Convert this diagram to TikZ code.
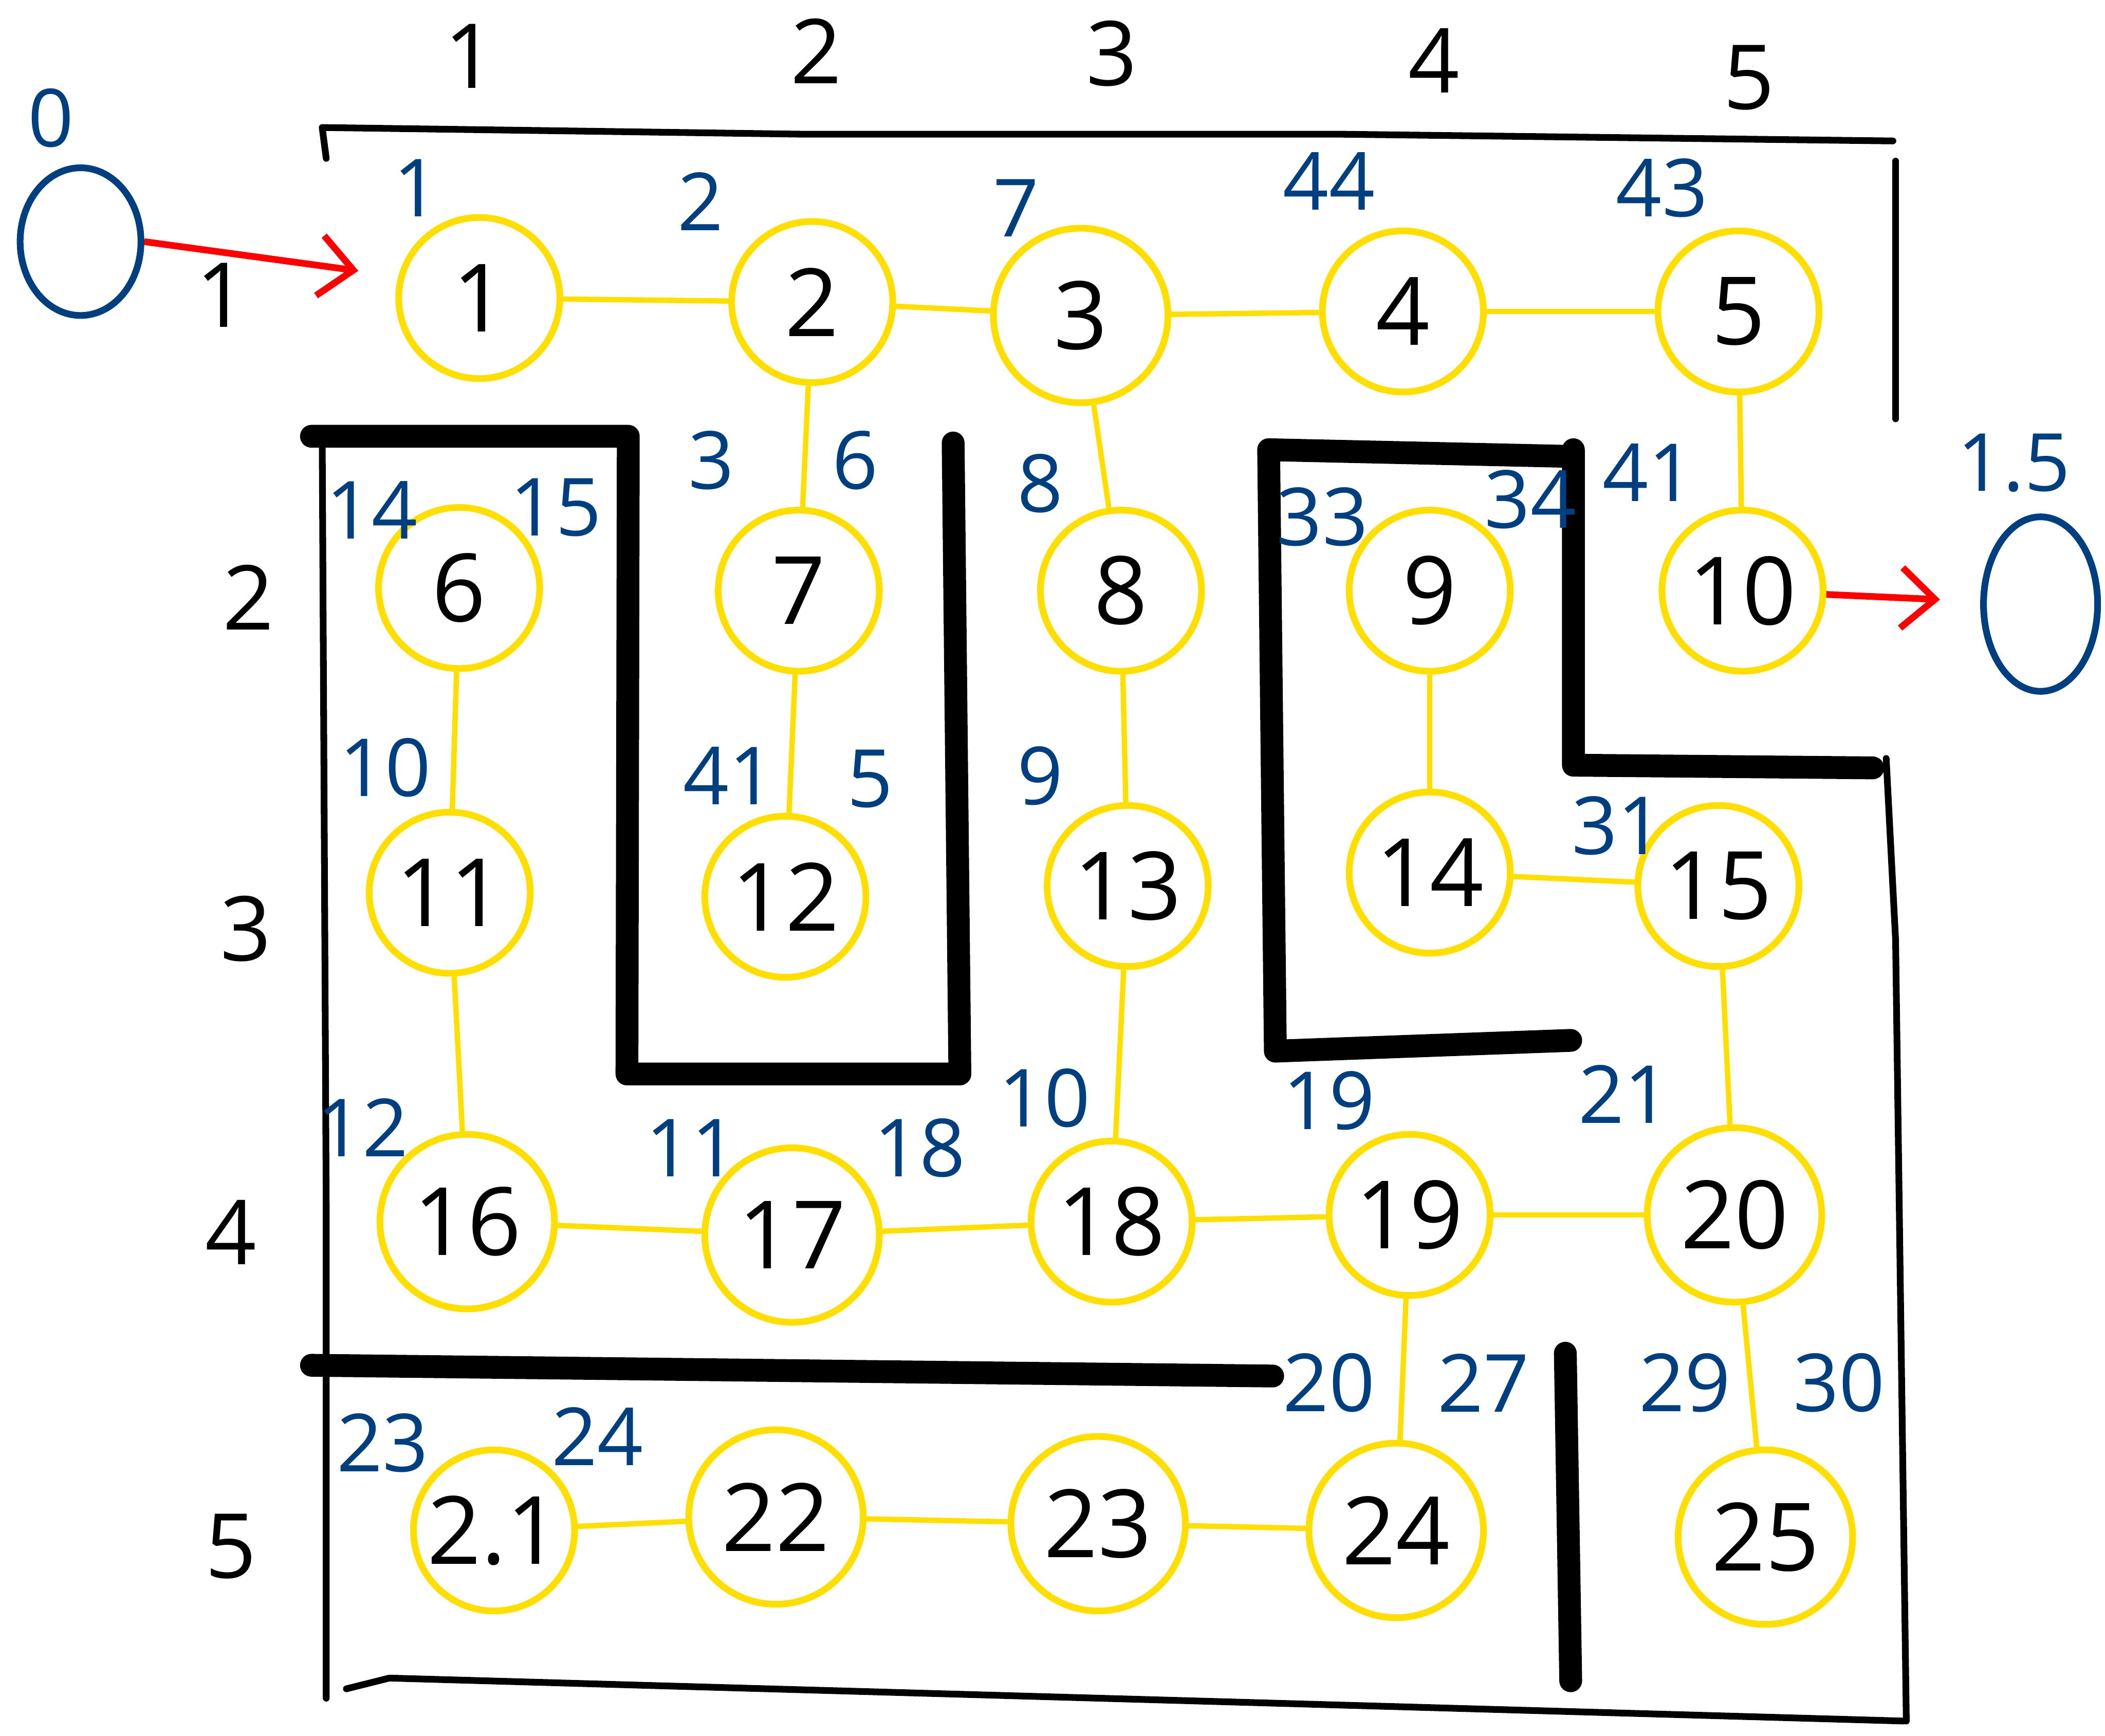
\documentclass[tikz,border=0pt]{standalone}
\usepackage{fontspec}
\setmainfont{Open Sans}
\usetikzlibrary{arrows.meta,shapes.geometric}
\definecolor{mzyel}{HTML}{FFDE00}
\definecolor{mzblu}{HTML}{003F7F}
\definecolor{mzred}{HTML}{FF0000}
\tikzset{
  cell/.style   ={circle, draw=mzyel, line width=0.5mm, minimum size=12mm, inner sep=0pt,
                  font=\fontsize{20}{20}\selectfont},
  pass/.style   ={draw=mzyel, line width=0.4mm},
  tag/.style    ={text=mzblu, inner sep=0pt, font=\fontsize{17}{17}\selectfont},
  idx/.style    ={inner sep=0pt, font=\fontsize{19}{19}\selectfont},
  wall/.style   ={draw=black, line width=0.5mm, line cap=round, line join=round},
  bigwall/.style={draw=black, line width=1.7mm, line cap=round, line join=round},
  term/.style   ={ellipse, draw=mzblu, line width=0.5mm, minimum width=9mm, minimum height=11mm},
  go/.style     ={draw=mzred, line width=0.5mm, -{Straight Barb[length=2.5mm,width=4.5mm]}},
}

\begin{document}
\begin{tikzpicture}[x=0.1mm, y=-0.1mm]
  \useasboundingbox (0,0) rectangle (1568,1293);
  % column and row numbers
  \node[idx] (c1) at (350,42) {1};
  \node[idx] (c2) at (608,38) {2};
  \node[idx] (c3) at (828,40) {3};
  \node[idx] (c4) at (1068,45) {4};
  \node[idx] (c5) at (1303,58) {5};
  \node[idx] (r1) at (165,220) {1};
  \node[idx] (r2) at (185,445) {2};
  \node[idx] (r3) at (183,692) {3};
  \node[idx] (r4) at (172,918) {4};
  \node[idx] (r5) at (172,1152) {5};

  % walls
  \draw[wall] (243,118) -- (240,95) -- (600,100) -- (1000,100) -- (1410,105);
  \draw[wall] (1412,120) -- (1412,312);
  \draw[wall] (240,325) -- (243,900) -- (243,1265);
  \draw[wall] (258,1258) -- (290,1250) -- (1418,1282);
  \draw[wall] (1405,565) -- (1412,700) -- (1420,1282);
  \draw[bigwall] (232,325) -- (468,325) -- (467,800) -- (715,800) -- (710,330);
  \draw[bigwall] (1170,340) -- (945,335) -- (950,783) -- (1170,775);
  \draw[bigwall] (1172,335) -- (1172,570) -- (1395,572);
  \draw[bigwall] (232,1017) -- (948,1025);
  \draw[bigwall] (1166,1008) -- (1170,1252);

  % cells
  \node[cell] (n1) at (357,222) {1};
  \node[cell] (n2) at (605,225) {2};
  \node[cell, minimum size=13mm] (n3) at (805,235) {3};
  \node[cell] (n4) at (1045,232) {4};
  \node[cell] (n5) at (1295,232) {5};
  \node[cell] (n6) at (342,438) {6};
  \node[cell] (n7) at (595,440) {7};
  \node[cell] (n8) at (835,440) {8};
  \node[cell] (n9) at (1065,440) {9};
  \node[cell] (n10) at (1298,440) {10};
  \node[cell] (n11) at (335,665) {11};
  \node[cell] (n12) at (585,668) {12};
  \node[cell] (n13) at (840,660) {13};
  \node[cell] (n14) at (1065,650) {14};
  \node[cell] (n15) at (1280,660) {15};
  \node[cell, minimum size=13mm] (n16) at (348,910) {16};
  \node[cell, minimum size=13mm] (n17) at (590,920) {17};
  \node[cell] (n18) at (828,910) {18};
  \node[cell] (n19) at (1050,905) {19};
  \node[cell, minimum size=13mm] (n20) at (1292,905) {20};
  \node[cell] (n21) at (368,1140) {2.1};
  \node[cell, minimum size=13mm] (n22) at (578,1130) {22};
  \node[cell, minimum size=13mm] (n23) at (818,1135) {23};
  \node[cell, minimum size=13mm] (n24) at (1040,1140) {24};
  \node[cell, minimum size=13mm] (n25) at (1315,1145) {25};

  % passages
  \draw[pass] (n1) -- (n2);
  \draw[pass] (n2) -- (n3);
  \draw[pass] (n3) -- (n4);
  \draw[pass] (n4) -- (n5);
  \draw[pass] (n2) -- (n7);
  \draw[pass] (n3) -- (n8);
  \draw[pass] (n5) -- (n10);
  \draw[pass] (n6) -- (n11);
  \draw[pass] (n7) -- (n12);
  \draw[pass] (n8) -- (n13);
  \draw[pass] (n9) -- (n14);
  \draw[pass] (n14) -- (n15);
  \draw[pass] (n11) -- (n16);
  \draw[pass] (n13) -- (n18);
  \draw[pass] (n15) -- (n20);
  \draw[pass] (n16) -- (n17);
  \draw[pass] (n17) -- (n18);
  \draw[pass] (n18) -- (n19);
  \draw[pass] (n19) -- (n20);
  \draw[pass] (n19) -- (n24);
  \draw[pass] (n20) -- (n25);
  \draw[pass] (n21) -- (n22);
  \draw[pass] (n22) -- (n23);
  \draw[pass] (n23) -- (n24);

  % start and goal
  \node[term] (start) at (60,180) {};
  \node[term, minimum width=8.5mm, minimum height=13mm] (goal) at (1520,450) {};
  \draw[go, shorten >=3mm] (start.east) -- (n1.165);
  \draw[go, shorten >=3mm] (n10) -- (goal);

  % visit order
  \node[tag] (t0) at (38,88) {0};
  \node[tag] (t1) at (310,140) {1};
  \node[tag] (t2) at (522,150) {2};
  \node[tag] (t7) at (757,155) {7};
  \node[tag] (t44) at (990,135) {44};
  \node[tag] (t43) at (1238,140) {43};
  \node[tag] (t3) at (530,343) {3};
  \node[tag] (t6) at (637,343) {6};
  \node[tag] (t8) at (775,360) {8};
  \node[tag] (t14) at (277,380) {14};
  \node[tag] (t15) at (414,378) {15};
  \node[tag] (t33) at (985,385) {33};
  \node[tag] (t34) at (1140,372) {34};
  \node[tag] (t41) at (1228,352) {41};
  \node[tag] (tgoal) at (1500,345) {1.5};
  \node[tag] (t10) at (287,572) {10};
  \node[tag] (t41b) at (543,578) {41};
  \node[tag] (t5) at (648,580) {5};
  \node[tag] (t9) at (775,578) {9};
  \node[tag] (t31) at (1205,615) {31};
  \node[tag] (t12) at (270,840) {12};
  \node[tag] (t11) at (515,855) {11};
  \node[tag] (t18) at (685,855) {18};
  \node[tag] (t10b) at (778,818) {10};
  \node[tag] (t19) at (990,820) {19};
  \node[tag] (t21) at (1210,815) {21};
  \node[tag] (t20) at (990,1030) {20};
  \node[tag] (t27) at (1105,1030) {27};
  \node[tag] (t29) at (1255,1030) {29};
  \node[tag] (t30) at (1370,1030) {30};
  \node[tag] (t23) at (285,1075) {23};
  \node[tag] (t24) at (445,1070) {24};
\end{tikzpicture}
\end{document}
